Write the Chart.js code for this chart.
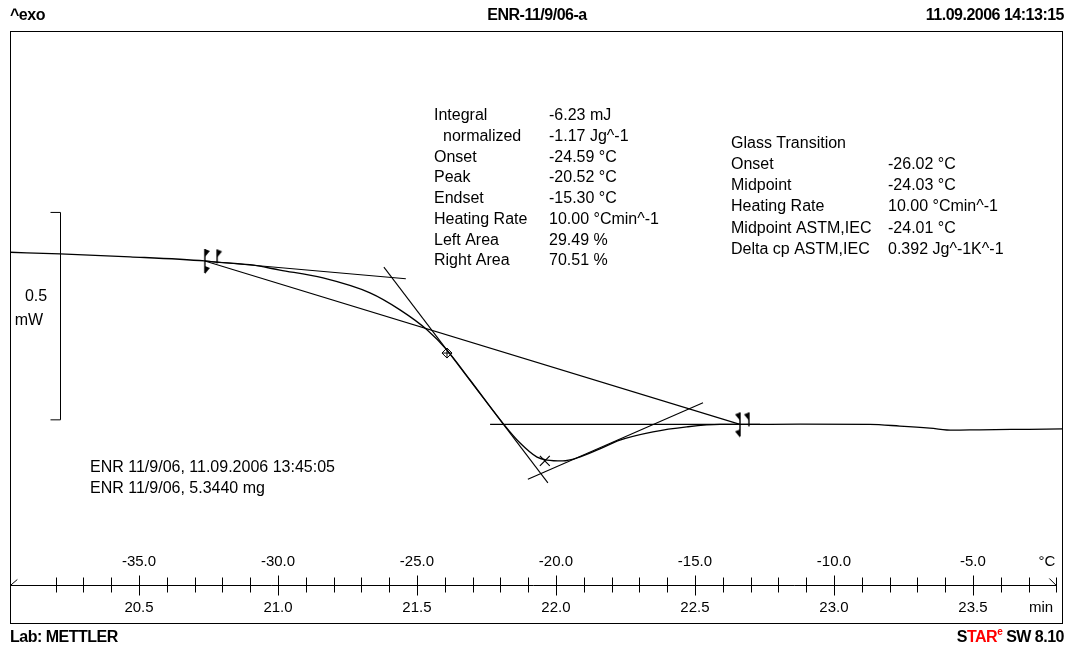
<!DOCTYPE html>
<html>
<head>
<meta charset="utf-8">
<script src="https://cdn.jsdelivr.net/npm/chart.js@4"></script>
<style>
html, body { margin: 0; padding: 0; background: #fff; overflow: hidden; }
canvas { display: block; }
</style>
</head>
<body>
<canvas id="dscChart" width="1066" height="648"></canvas>
<script>
// DSC curve: time in min, heat flow in mW (^exo up)
const curveTime = [20.036, 20.216, 20.468, 20.737, 20.766, 20.899, 21.007, 21.162, 21.331, 21.439, 21.536,
    21.608, 21.691, 21.809, 21.871, 21.932, 21.968, 22.025, 22.076, 22.158, 22.230, 22.349, 22.471, 22.590,
    22.662, 22.878, 23.129, 23.237, 23.345, 23.428, 23.525, 23.669, 23.824];
const curveMW = [-0.001, -0.005, -0.012, -0.022, -0.024, -0.031, -0.044, -0.063, -0.099, -0.140, -0.188,
    -0.237, -0.309, -0.413, -0.461, -0.495, -0.502, -0.504, -0.497, -0.475, -0.454, -0.434, -0.422, -0.416,
    -0.416, -0.4155, -0.416, -0.420, -0.425, -0.430, -0.429, -0.428, -0.427];

// evaluation lines (start, end)
const tangentLeftTime = [20.737, 21.460];
const tangentLeftMW = [-0.022, -0.065];
const baselineTime = [20.737, 22.662];
const baselineMW = [-0.022, -0.416];
const tangentSteepTime = [21.381, 21.971];
const tangentSteepMW = [-0.037, -0.557];
const tangentRightTime = [21.763, 22.734];
const tangentRightMW = [-0.416, -0.416];
const tangentReturnTime = [21.899, 22.529];
const tangentReturnMW = [-0.548, -0.364];

// markers
const limitLeftTime = [20.737, 20.781];
const limitLeftMW = [-0.022, -0.023];
const limitRightTime = [22.662, 22.694];
const limitRightMW = [-0.416, -0.416];
const midpointTime = [21.608];
const midpointMW = [-0.244];
const peakTime = [21.960];
const peakMW = [-0.504];

// axis
const timeTicks = [20.5, 21.0, 21.5, 22.0, 22.5, 23.0, 23.5];
const tempTicks = [-35.0, -30.0, -25.0, -20.0, -15.0, -10.0, -5.0];
const minorFrom = 20.2, minorTo = 23.8;
const scaleBarMW = [0.095, -0.405];

const leftResults = [
    ['Integral', '-6.23 mJ'],
    ['  normalized', '-1.17 Jg^-1'],
    ['Onset', '-24.59 °C'],
    ['Peak', '-20.52 °C'],
    ['Endset', '-15.30 °C'],
    ['Heating Rate', '10.00 °Cmin^-1'],
    ['Left Area', '29.49 %'],
    ['Right Area', '70.51 %']
];
const glassResults = [
    ['Glass Transition', ''],
    ['Onset', '-26.02 °C'],
    ['Midpoint', '-24.03 °C'],
    ['Heating Rate', '10.00 °Cmin^-1'],
    ['Midpoint ASTM,IEC', '-24.01 °C'],
    ['Delta cp ASTM,IEC', '0.392 Jg^-1K^-1']
];
const sampleLines = ['ENR 11/9/06, 11.09.2006 13:45:05', 'ENR 11/9/06, 5.3440 mg'];

function pts(xs, ys) {
    return xs.map((x, i) => ({ x: x, y: ys[i] }));
}
function tempToTime(t) {
    return (t + 240) / 10;
}

function flag(dir, both) {
    const c = document.createElement('canvas');
    c.width = 16; c.height = 28;
    const g = c.getContext('2d');
    g.fillStyle = '#000'; g.strokeStyle = '#000'; g.lineWidth = 1.4;
    g.beginPath(); g.moveTo(8, 2); g.lineTo(8, both ? 26 : 16); g.stroke();
    const tri = (y) => {
        g.beginPath(); g.moveTo(8, y); g.lineTo(8 + dir * 5, y + 2); g.lineTo(8, y + 8); g.closePath(); g.fill();
    };
    tri(2);
    if (both) tri(19);
    return c;
}

const lineStyle = { borderColor: '#000', borderWidth: 1.1, pointRadius: 0, showLine: true, fill: false };

const dscDecor = {
    id: 'dscDecor',
    afterDraw(chart) {
        const c = chart.ctx, a = chart.chartArea, x = chart.scales.x, y = chart.scales.y;
        c.save();
        c.strokeStyle = '#000'; c.fillStyle = '#000'; c.lineWidth = 1;
        c.strokeRect(a.left + 0.5, a.top + 0.5, a.right - a.left - 1, a.bottom - a.top);

        // header
        c.font = 'bold 16px "Liberation Sans"';
        c.letterSpacing = '-0.5px';
        c.textBaseline = 'alphabetic';
        c.textAlign = 'left'; c.fillText('^exo', 10, 20);
        c.textAlign = 'center'; c.fillText('ENR-11/9/06-a', 537, 20);
        c.textAlign = 'right'; c.fillText('11.09.2006 14:13:15', 1064, 20);
        c.textAlign = 'left'; c.fillText('Lab: METTLER', 10, 642);

        // footer STARe SW 8.10
        const parts = [['S', '#000', 16, 0], ['TAR', '#ff0000', 16, 0], ['e', '#ff0000', 10, -7], [' SW 8.10', '#000', 16, 0]];
        let w = 0;
        parts.forEach(p => { c.font = 'bold ' + p[2] + 'px "Liberation Sans"'; w += c.measureText(p[0]).width; });
        let px = 1064 - w;
        parts.forEach(p => {
            c.font = 'bold ' + p[2] + 'px "Liberation Sans"';
            c.fillStyle = p[1];
            c.fillText(p[0], px, 642 + p[3]);
            px += c.measureText(p[0]).width;
        });
        c.fillStyle = '#000';
        c.letterSpacing = '0px';

        // result blocks
        c.font = '16px "Liberation Sans"';
        c.textAlign = 'left';
        leftResults.forEach((r, i) => {
            const by = 120 + i * 20.75;
            c.fillText(r[0].trim(), r[0].startsWith(' ') ? 443 : 434, by);
            c.fillText(r[1], 549, by);
        });
        glassResults.forEach((r, i) => {
            const by = 147.5 + i * 21.3;
            c.fillText(r[0], 731, by);
            c.fillText(r[1], 888, by);
        });
        sampleLines.forEach((s, i) => c.fillText(s, 90, 472 + i * 20.7));

        // scale bar
        const sx = Math.round(x.getPixelForValue(20.216)) + 0.5;
        const y1 = y.getPixelForValue(scaleBarMW[0]), y2 = y.getPixelForValue(scaleBarMW[1]);
        c.beginPath();
        c.moveTo(sx - 10, y1); c.lineTo(sx, y1); c.lineTo(sx, y2); c.lineTo(sx - 10, y2);
        c.stroke();
        c.textAlign = 'center';
        c.fillText((scaleBarMW[0] - scaleBarMW[1]).toFixed(1), 36, 301);
        c.fillText('mW', 29, 325);

        // bottom axis
        const ay = 585.5;
        const xl = x.getPixelForValue(20.03), xr = x.getPixelForValue(23.8);
        c.beginPath();
        c.moveTo(xl + 2, ay); c.lineTo(xr, ay);
        c.moveTo(xl + 2, ay); c.lineTo(xl + 9, ay - 6);
        c.moveTo(xr, ay); c.lineTo(xr - 7, ay - 7);
        for (let t = minorFrom; t <= minorTo + 1e-6; t += 0.1) {
            const tx = Math.round(x.getPixelForValue(t)) + 0.5;
            const major = timeTicks.some(v => Math.abs(v - t) < 1e-6);
            c.moveTo(tx, ay - (major ? 10 : 8));
            c.lineTo(tx, ay + (major ? 10 : 7));
        }
        c.stroke();
        c.font = '15px "Liberation Sans"';
        c.textBaseline = 'middle';
        c.textAlign = 'center';
        tempTicks.forEach(t => c.fillText(t.toFixed(1), x.getPixelForValue(tempToTime(t)), 562));
        timeTicks.forEach(t => c.fillText(t.toFixed(1), x.getPixelForValue(t), 608));
        c.fillText('°C', 1047, 562);
        c.fillText('min', 1041, 608);
        c.restore();
    }
};

const ctx = document.getElementById('dscChart').getContext('2d');
const dscChart = new Chart(ctx, {
    type: 'scatter',
    data: {
        datasets: [
            { label: 'DSC', data: pts(curveTime, curveMW), borderColor: '#000', borderWidth: 1.3, pointRadius: 0, showLine: true, cubicInterpolationMode: 'monotone' },
            Object.assign({ label: 'tangent left', data: pts(tangentLeftTime, tangentLeftMW) }, lineStyle),
            Object.assign({ label: 'baseline', data: pts(baselineTime, baselineMW) }, lineStyle),
            Object.assign({ label: 'tangent steep', data: pts(tangentSteepTime, tangentSteepMW) }, lineStyle),
            Object.assign({ label: 'tangent right', data: pts(tangentRightTime, tangentRightMW) }, lineStyle),
            Object.assign({ label: 'tangent return', data: pts(tangentReturnTime, tangentReturnMW) }, lineStyle),
            { label: 'limit left', data: pts(limitLeftTime, limitLeftMW), pointStyle: [flag(1, true), flag(1, false)], pointRadius: 6 },
            { label: 'limit right', data: pts(limitRightTime, limitRightMW), pointStyle: [flag(-1, true), flag(-1, false)], pointRadius: 6 },
            { label: 'midpoint', data: pts(midpointTime, midpointMW), pointStyle: 'rectRot', pointRadius: 5, borderColor: '#000', borderWidth: 1, backgroundColor: 'rgba(0,0,0,0)' },
            { label: 'midpoint cross', data: pts(midpointTime, midpointMW), pointStyle: 'cross', pointRadius: 5, borderColor: '#000', borderWidth: 1 },
            { label: 'peak', data: pts(peakTime, peakMW), pointStyle: 'crossRot', pointRadius: 7, borderColor: '#000', borderWidth: 1.2 }
        ]
    },
    options: {
        responsive: false,
        animation: false,
        layout: { autoPadding: false, padding: { left: 10, top: 31, right: 3, bottom: 25 } },
        scales: {
            x: { type: 'linear', min: 20.036, max: 23.824, display: false },
            y: { type: 'linear', min: -0.8948, max: 0.5324, display: false }
        },
        plugins: { legend: { display: false }, tooltip: { enabled: false } }
    },
    plugins: [dscDecor]
});
</script>
</body>
</html>
